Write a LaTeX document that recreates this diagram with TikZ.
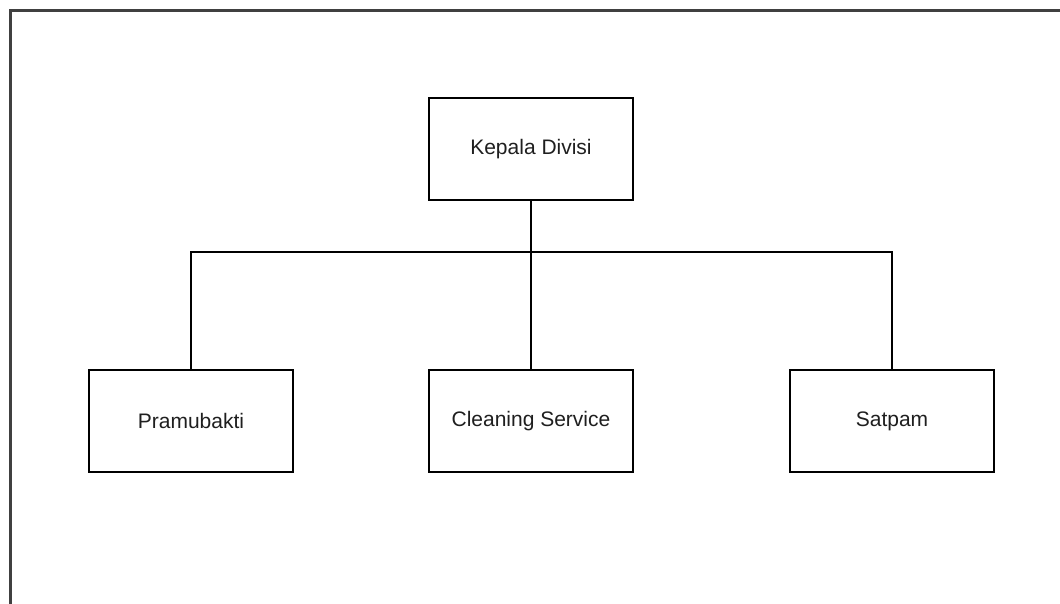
\documentclass[tikz,border=0pt]{standalone}
\usepackage{fontspec}
\setmainfont{Liberation Sans}
\begin{document}
\begin{tikzpicture}[x=1pt,y=-1pt,
  box/.style={draw=black, line width=1.6pt, minimum width=204pt, minimum height=102pt, inner sep=0pt, font=\fontsize{21}{24}\selectfont, text=black!88},
  link/.style={draw=black, line width=1.5pt}]
\useasboundingbox (0,0) rectangle (1060,604);
\fill[white] (0,0) rectangle (1060,604);
\draw[line width=3pt, black!75] (10,604) -- (10,11) -- (1060,11);
\node[box] (top) at (531,149) {Kepala Divisi};
\node[box] (pram) at (191,421) {Pramubakti};
\node[box] (clean) at (531,421) {Cleaning Service};
\node[box] (sat) at (892,421) {Satpam};
\coordinate (bus) at (531,252);
\draw[link] (top.south) -- (clean.north);
\draw[link] (pram.north) |- (bus) -| (sat.north);
\end{tikzpicture}
\end{document}
